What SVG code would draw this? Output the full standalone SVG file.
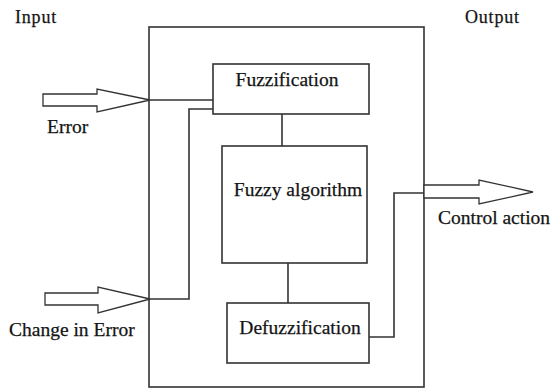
<svg xmlns="http://www.w3.org/2000/svg" width="557" height="389" viewBox="0 0 557 389">
  <style>
    .box { fill: #fff; stroke: #333; stroke-width: 1.6; }
    .wire { fill: none; stroke: #333; stroke-width: 1.6; }
    .arrow { fill: #fff; stroke: #333; stroke-width: 1.3; stroke-linejoin: miter; }
    .lbl { font-family: "Liberation Serif", "Times New Roman", serif; font-size: 19.5px; fill: #141414; stroke: #141414; stroke-width: 0.25; }
    .hdr { font-family: "Liberation Serif", "Times New Roman", serif; font-size: 18px; letter-spacing: 0.8px; fill: #141414; stroke: #141414; stroke-width: 0.25; }
  </style>
  <rect width="557" height="389" fill="#fff"/>

  <!-- controller enclosure -->
  <g id="controller">
    <rect class="box" x="149" y="27" width="275" height="360"/>
  </g>

  <g id="fuzzification">
    <rect class="box" x="213" y="64" width="156" height="50"/>
    <text class="lbl" x="287" y="86" text-anchor="middle">Fuzzification</text>
  </g>

  <g id="fuzzy-algorithm">
    <rect class="box" x="222" y="146" width="145" height="117"/>
    <text class="lbl" x="298" y="196" text-anchor="middle">Fuzzy algorithm</text>
  </g>

  <g id="defuzzification">
    <rect class="box" x="227" y="303" width="142" height="60"/>
    <text class="lbl" x="300" y="334" text-anchor="middle">Defuzzification</text>
  </g>

  <!-- connectors -->
  <g id="connectors">
    <path class="wire" d="M150 100 H213"/>
    <path class="wire" d="M150 299 H189 V109 H213"/>
    <path class="wire" d="M282 114 V146"/>
    <path class="wire" d="M288 263 V303"/>
    <path class="wire" d="M369 337 H394 V193 H424"/>
    <!-- hollow block arrows -->
    <polygon class="arrow" points="43,94 97,94 97,89 150,100 97,112 97,106 43,106"/>
    <polygon class="arrow" points="45,293 98,293 98,287 150,299 98,313 98,305 45,305"/>
    <polygon class="arrow" points="424,185 479,185 479,180 533,192 479,204 479,198 424,198"/>
  </g>

  <!-- labels -->
  <g id="labels">
    <text class="hdr" x="15" y="23">Input</text>
    <text class="hdr" x="465" y="23">Output</text>
    <text class="lbl" x="47" y="133">Error</text>
    <text class="lbl" x="9" y="336">Change in Error</text>
    <text class="lbl" x="438" y="224">Control action</text>
  </g>
</svg>
